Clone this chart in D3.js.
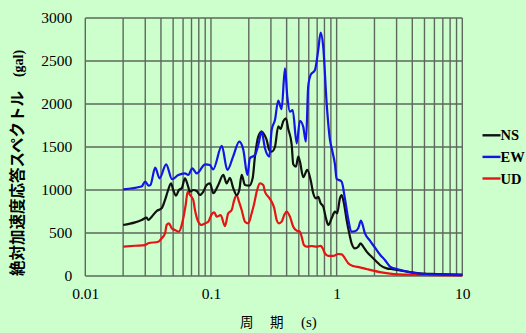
<!DOCTYPE html>
<html>
<head>
<meta charset="utf-8">
<script src="https://cdn.jsdelivr.net/npm/d3@7"></script>
<style>
  html, body { margin: 0; padding: 0; background: #ccffcc; }
  svg { display: block; }
</style>
</head>
<body>
<svg id="chart" width="526" height="333"></svg>
<script>
// Absolute acceleration response spectra (gal) vs. period (s)
const periodsNS = [0.020,0.0249,0.0281,0.0308,0.0317,0.0338,0.037,0.0405,0.0431,0.0452,0.0481,0.0501,0.0527,0.0556,0.0585,0.0621,0.0653,0.0681,0.0723,0.077,0.0817,0.0868,0.0924,0.0982,0.1043,0.1143,0.1253,0.1333,0.1416,0.1505,0.1601,0.168,0.1755,0.1864,0.2017,0.2146,0.2239,0.2378,0.2531,0.264,0.2774,0.291,0.3041,0.3229,0.3431,0.3585,0.376,0.3951,0.4121,0.4385,0.4516,0.4747,0.4949,0.5105,0.5424,0.5836,0.6213,0.6514,0.6843,0.7139,0.746,0.7824,0.8221,0.8576,0.9124,0.9694,1.011,1.062,1.096,1.143,1.201,1.26,1.316,1.398,1.485,1.552,1.628,1.733,1.898,2.081,2.211,2.50,2.82,3.386,4.60,6.24,10];
const accelNS = [593,624,651,678,651,690,756,787,884,980,1078,1000,934,1000,1020,1136,1058,980,1000,988,942,980,1058,1078,962,1058,1175,1078,1140,1020,940,1000,1175,1058,1050,1136,1388,1620,1678,1651,1582,1465,1446,1500,1740,1710,1800,1834,1710,1530,1300,1271,1388,1330,1150,1233,1116,962,903,920,845,806,671,593,671,748,729,903,942,845,651,496,380,322,341,380,341,283,224,166,128,89,78,58,31,23,15];

const periodsEW = [0.020,0.028,0.030,0.032,0.033,0.036,0.039,0.044,0.049,0.055,0.062,0.066,0.071,0.077,0.090,0.098,0.104,0.122,0.135,0.150,0.168,0.181,0.195,0.204,0.224,0.238,0.253,0.269,0.291,0.304,0.323,0.343,0.365,0.388,0.405,0.425,0.447,0.481,0.510,0.542,0.570,0.594,0.621,0.672,0.714,0.746,0.782,0.833,0.885,0.92,0.969,1.0,1.03,1.096,1.164,1.237,1.316,1.398,1.485,1.561,1.68,1.84,2.02,2.21,2.42,2.66,3.0,3.39,4.07,5.2,7.05,10];
const accelEW = [1008,1040,1097,1050,1058,1260,1136,1299,1125,1175,1194,1175,1252,1194,1299,1290,1240,1512,1233,1388,1562,1465,1175,1369,1407,1523,1678,1485,1388,1698,1814,2040,1940,2415,2085,1911,1930,1543,1805,1737,1562,2202,2338,2396,2629,2830,2667,2008,1582,1465,1300,1130,1120,1097,900,660,515,520,555,643,496,410,330,250,186,110,81,62,38,23,15,10];

const periodsUD = [0.020,0.0249,0.0299,0.0317,0.0381,0.0405,0.0431,0.0444,0.0463,0.0487,0.0517,0.0556,0.0585,0.0602,0.0629,0.0653,0.0681,0.0723,0.0746,0.0792,0.0843,0.0896,0.0952,0.1013,0.1062,0.111,0.1194,0.1292,0.1372,0.1461,0.1532,0.1601,0.1671,0.1755,0.1864,0.1981,0.2108,0.2211,0.231,0.2454,0.2607,0.2689,0.2856,0.3041,0.3189,0.3332,0.3475,0.3652,0.383,0.4002,0.4251,0.4516,0.4808,0.5105,0.5267,0.5495,0.5773,0.6325,0.6934,0.746,0.7736,0.807,0.8576,0.9398,1.03,1.096,1.164,1.237,1.356,1.532,1.733,1.955,2.211,2.655,3.83,10];
const accelUD = [341,352,360,380,399,438,496,593,612,555,535,515,593,671,826,980,942,884,767,632,593,612,632,718,740,690,709,580,729,767,884,942,864,767,632,612,729,845,980,1078,1058,980,922,864,787,651,612,632,709,748,690,573,527,515,457,360,341,349,341,352,322,264,233,233,256,252,206,148,116,101,81,62,45,28,15,8];

const seriesNames = ["NS", "EW", "UD"];
const seriesColors = ["#111111", "#1414e6", "#e61414"];

const xTicks = [0.01, 0.1, 1, 10];
const xTickLabels = ["0.01", "0.1", "1", "10"];
const yTicks = [0, 500, 1000, 1500, 2000, 2500, 3000];

const series = [
  { name: seriesNames[0], color: seriesColors[0], t: periodsNS, a: accelNS },
  { name: seriesNames[1], color: seriesColors[1], t: periodsEW, a: accelEW },
  { name: seriesNames[2], color: seriesColors[2], t: periodsUD, a: accelUD }
];

const svg = d3.select("#chart");
const plot = { left: 85.3, right: 462.3, top: 18, bottom: 276 };

const x = d3.scaleLog().domain([0.01, 10]).range([plot.left, plot.right]);
const y = d3.scaleLinear().domain([0, 3000]).range([plot.bottom, plot.top]);

svg.append("rect").attr("width", 526).attr("height", 333).attr("fill", "#ccffcc");

// grid: every log sub-division and every 500 gal
const gridColor = "#5e695e";
const minor = [];
[0.01, 0.1, 1].forEach(d => { for (let k = 1; k <= 9; k++) minor.push(d * k); });
minor.push(10);

const grid = svg.append("g");
grid.selectAll("line.v").data(minor).join("line")
  .attr("x1", d => x(d)).attr("x2", d => x(d))
  .attr("y1", plot.top).attr("y2", plot.bottom)
  .attr("stroke", gridColor).attr("stroke-width", 1.4);
grid.selectAll("line.h").data(yTicks).join("line")
  .attr("x1", plot.left).attr("x2", plot.right)
  .attr("y1", d => y(d)).attr("y2", d => y(d))
  .attr("stroke", gridColor).attr("stroke-width", 1.6);

// axes (labels only, the frame is the grid)
const yAxis = svg.append("g")
  .attr("transform", `translate(${plot.left},0)`)
  .call(d3.axisLeft(y).tickValues(yTicks).tickSize(0).tickPadding(13).tickFormat(d3.format("d")));
yAxis.select(".domain").remove();
yAxis.selectAll("text")
  .attr("font-family", "'Liberation Serif', 'Times New Roman', serif")
  .attr("font-size", 15.5).attr("fill", "#000");

const xAxis = svg.append("g")
  .attr("transform", `translate(0,${plot.bottom})`)
  .call(d3.axisBottom(x).tickValues(xTicks).tickSize(0).tickPadding(12)
    .tickFormat((d, i) => xTickLabels[i]));
xAxis.select(".domain").remove();
xAxis.selectAll("text")
  .attr("font-family", "'Liberation Serif', 'Times New Roman', serif")
  .attr("font-size", 15.5).attr("fill", "#000");

// spectra
const line = d3.line()
  .x(d => x(d[0]))
  .y(d => y(d[1]))
  .curve(d3.curveMonotoneX);

const curves = svg.append("g");
[series[2], series[0], series[1]].forEach(s => {
  curves.append("path")
    .datum(s.t.map((t, i) => [t, s.a[i]]))
    .attr("d", line)
    .attr("fill", "none")
    .attr("stroke", s.color)
    .attr("stroke-width", 2.2)
    .attr("stroke-linejoin", "round");
});

// legend
const legend = svg.append("g");
series.forEach((s, i) => {
  const ly = 135.3 + i * 21.6;
  legend.append("line")
    .attr("x1", 482.5).attr("x2", 500.5)
    .attr("y1", ly).attr("y2", ly)
    .attr("stroke", s.color).attr("stroke-width", 2.4);
  legend.append("text")
    .attr("x", 500.5).attr("y", ly + 5)
    .attr("font-family", "'Liberation Serif', 'Times New Roman', serif")
    .attr("font-weight", "bold").attr("font-size", 14.5)
    .attr("fill", "#000")
    .text(s.name);
});

// y-axis title
const yTitle = svg.append("text")
  .attr("transform", "translate(22.5,276) rotate(-90)")
  .attr("font-weight", "bold")
  .attr("fill", "#000");
yTitle.append("tspan")
  .attr("font-family", "'Noto Sans CJK JP', sans-serif")
  .attr("font-size", 15.5)
  .text("絶対加速度応答スペクトル");
yTitle.append("tspan")
  .attr("dx", 14)
  .attr("font-family", "'Liberation Serif', serif")
  .attr("font-size", 14)
  .text("(gal)");

// x-axis title
const xTitle = svg.append("g").attr("fill", "#000");
xTitle.append("text").attr("x", 240).attr("y", 327)
  .attr("font-family", "'Noto Sans CJK JP', sans-serif").attr("font-size", 13.5).text("周");
xTitle.append("text").attr("x", 270).attr("y", 327)
  .attr("font-family", "'Noto Sans CJK JP', sans-serif").attr("font-size", 13.5).text("期");
xTitle.append("text").attr("x", 301).attr("y", 327)
  .attr("font-family", "'Liberation Serif', serif").attr("font-size", 15).text("(s)");
</script>
</body>
</html>
